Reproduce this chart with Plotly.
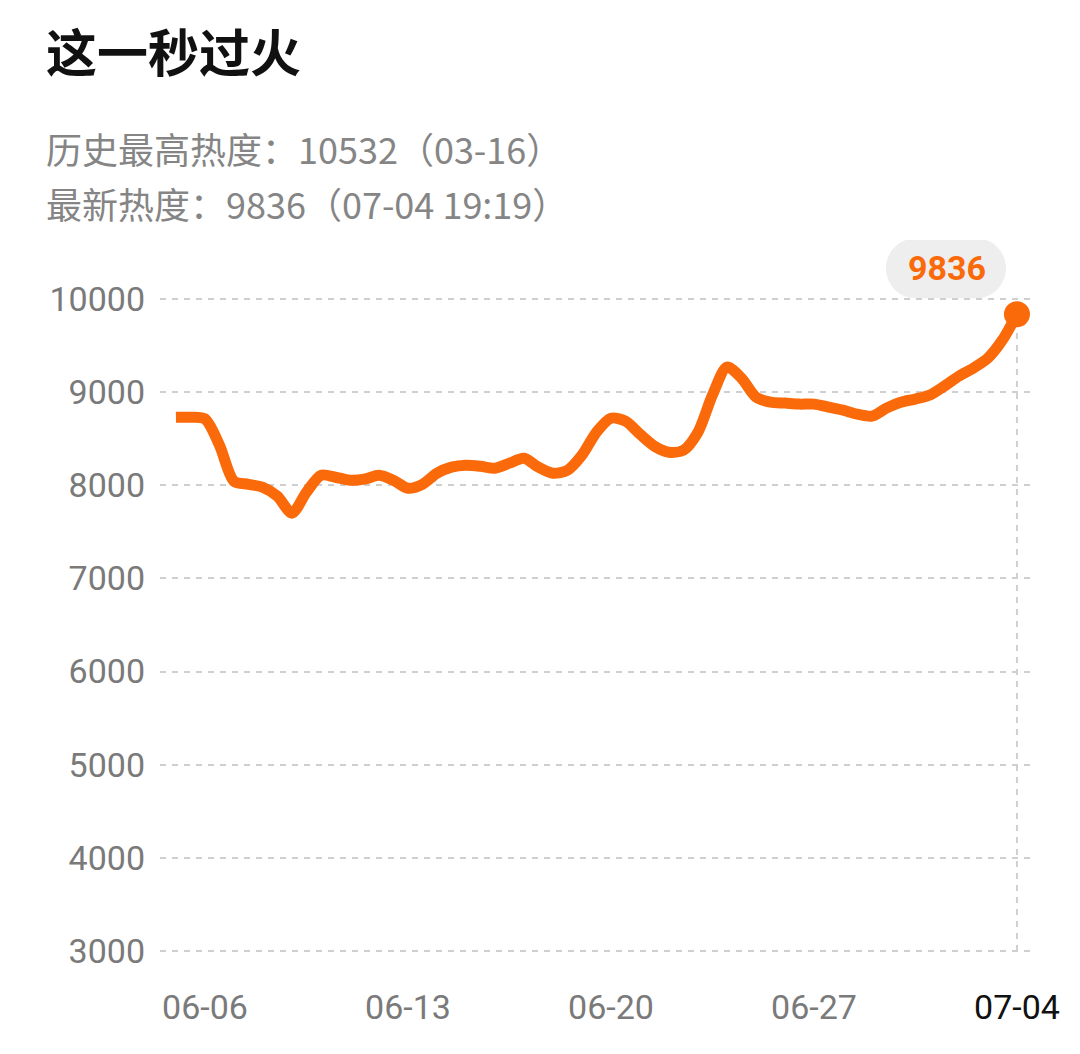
import plotly.graph_objects as go

# ---------------- data ----------------
title_text = "这一秒过火"
sub_line1 = "历史最高热度：10532（03-16）"
sub_line2 = "最新热度：9836（07-04 19:19）"

times = [
    "2024-06-05 00:00", "2024-06-05 12:00", "2024-06-06 00:00", "2024-06-06 12:00",
    "2024-06-07 00:00", "2024-06-07 12:00", "2024-06-08 00:00", "2024-06-08 12:00",
    "2024-06-09 00:00", "2024-06-09 12:00", "2024-06-10 00:00", "2024-06-10 12:00",
    "2024-06-11 00:00", "2024-06-11 12:00", "2024-06-12 00:00", "2024-06-12 12:00",
    "2024-06-13 00:00", "2024-06-13 12:00", "2024-06-14 00:00", "2024-06-14 12:00",
    "2024-06-15 00:00", "2024-06-15 12:00", "2024-06-16 00:00", "2024-06-16 12:00",
    "2024-06-17 00:00", "2024-06-17 12:00", "2024-06-18 00:00", "2024-06-18 12:00",
    "2024-06-19 00:00", "2024-06-19 12:00", "2024-06-20 00:00", "2024-06-20 12:00",
    "2024-06-21 00:00", "2024-06-21 12:00", "2024-06-22 00:00", "2024-06-22 12:00",
    "2024-06-23 00:00", "2024-06-23 12:00", "2024-06-24 00:00", "2024-06-24 12:00",
    "2024-06-25 00:00", "2024-06-25 12:00", "2024-06-26 00:00", "2024-06-26 12:00",
    "2024-06-27 00:00", "2024-06-27 12:00", "2024-06-28 00:00", "2024-06-28 12:00",
    "2024-06-29 00:00", "2024-06-29 12:00", "2024-06-30 00:00", "2024-06-30 12:00",
    "2024-07-01 00:00", "2024-07-01 12:00", "2024-07-02 00:00", "2024-07-02 12:00",
    "2024-07-03 00:00", "2024-07-03 12:00", "2024-07-04 00:00",
]
heat = [
    8730, 8730, 8712, 8430,
    8043, 8010, 7978, 7882,
    7700, 7925, 8107, 8086,
    8054, 8065, 8107, 8054,
    7968, 8010, 8129, 8194,
    8215, 8204, 8183, 8237,
    8290, 8194, 8129, 8161,
    8323, 8570, 8720, 8688,
    8548, 8419, 8355, 8376,
    8570, 8968, 9269, 9150,
    8946, 8892, 8882, 8871,
    8871, 8839, 8806, 8763,
    8742, 8828, 8892, 8925,
    8968, 9065, 9172, 9258,
    9366, 9560, 9836,
]

x_tick_vals = ["2024-06-06", "2024-06-13", "2024-06-20", "2024-06-27", "2024-07-04"]
x_tick_text = ["06-06", "06-13", "06-20", "06-27", "07-04"]
y_tick_vals = [3000, 4000, 5000, 6000, 7000, 8000, 9000, 10000]
y_tick_text = ["3000", "4000", "5000", "6000", "7000", "8000", "9000", "10000"]

ORANGE = "#FA6A0A"
GRID = "#CFCFCF"
TICK_GRAY = "#7A7A7A"

# ---------------- figure ----------------
fig = go.Figure()

fig.add_trace(go.Scatter(
    x=times, y=heat, mode="lines",
    line=dict(color=ORANGE, width=11, shape="spline", smoothing=0.8),
    hoverinfo="skip", showlegend=False,
))
fig.add_trace(go.Scatter(
    x=[times[-1]], y=[heat[-1]], mode="markers",
    marker=dict(color=ORANGE, size=26),
    hoverinfo="skip", showlegend=False,
))

# vertical dashed guide from last point to the bottom tick
fig.add_shape(type="line", xref="x", yref="y",
              x0=times[-1], x1=times[-1], y0=y_tick_vals[0], y1=heat[-1],
              line=dict(color=GRID, width=2, dash="6px,6px"), layer="below")

# pill behind the latest value label (pixel offsets relative to last point)
cx, cy, w, h = -71, 46, 120, 60
r = h / 2
k = 0.5523 * r
l, rr, b, t = cx - w / 2, cx + w / 2, cy - h / 2, cy + h / 2
path = (f"M {l + r},{b} L {rr - r},{b} "
        f"C {rr - r + k},{b} {rr},{cy - k} {rr},{cy} "
        f"C {rr},{cy + k} {rr - r + k},{t} {rr - r},{t} "
        f"L {l + r},{t} "
        f"C {l + r - k},{t} {l},{cy + k} {l},{cy} "
        f"C {l},{cy - k} {l + r - k},{b} {l + r},{b} Z")
fig.add_shape(type="path", path=path,
              xref="x", yref="y", xsizemode="pixel", ysizemode="pixel",
              xanchor=times[-1], yanchor=heat[-1],
              fillcolor="#EEEEEE", line=dict(width=0), layer="below")

fig.add_annotation(x=times[-1], y=heat[-1], xref="x", yref="y",
                   text=f"<b>{heat[-1]}</b>", showarrow=False,
                   xshift=cx + 1, yshift=cy,
                   font=dict(family="Roboto", size=34, color=ORANGE))

# title and info lines
PL, PW, PT, PH = 160, 870, 240, 720
def px_x(v):
    return (v - PL) / PW
def px_y(v):
    return (PT + PH - v) / PH

fig.add_annotation(xref="paper", yref="paper", x=px_x(44), y=px_y(50),
                   xanchor="left", yanchor="middle", showarrow=False,
                   text=f"<b>{title_text}</b>",
                   font=dict(family="Noto Sans CJK SC", size=51, color="#111111"))
fig.add_annotation(xref="paper", yref="paper", x=px_x(44), y=px_y(148),
                   xanchor="left", yanchor="middle", showarrow=False,
                   text=sub_line1,
                   font=dict(family="Noto Sans CJK SC", size=36, color="#858585"))
fig.add_annotation(xref="paper", yref="paper", x=px_x(44), y=px_y(203),
                   xanchor="left", yanchor="middle", showarrow=False,
                   text=sub_line2,
                   font=dict(family="Noto Sans CJK SC", size=36, color="#858585"))

tick_text_colored = [
    (f"<span style='color:#111111'>{s}</span>" if i == len(x_tick_text) - 1 else s)
    for i, s in enumerate(x_tick_text)
]

fig.update_layout(
    width=1080, height=1054,
    margin=dict(l=PL, r=1080 - PL - PW, t=PT, b=1054 - PT - PH, pad=0),
    paper_bgcolor="white", plot_bgcolor="white",
    showlegend=False,
    xaxis=dict(
        type="date",
        range=["2024-06-04 10:48", "2024-07-04 10:48"],
        tickmode="array", tickvals=x_tick_vals, ticktext=tick_text_colored,
        showgrid=False, zeroline=False, showline=False, ticks="",
        tickfont=dict(family="Roboto", size=34, color=TICK_GRAY),
        ticklabelstandoff=24,
    ),
    yaxis=dict(
        range=[2903, 10633],
        tickmode="array", tickvals=y_tick_vals, ticktext=y_tick_text,
        showgrid=True, gridcolor=GRID, gridwidth=2, griddash="6px,6px",
        zeroline=False, showline=False, ticks="",
        tickfont=dict(family="Roboto", size=34, color=TICK_GRAY),
        ticklabelstandoff=14,
    ),
)

fig.write_html("out.html")
